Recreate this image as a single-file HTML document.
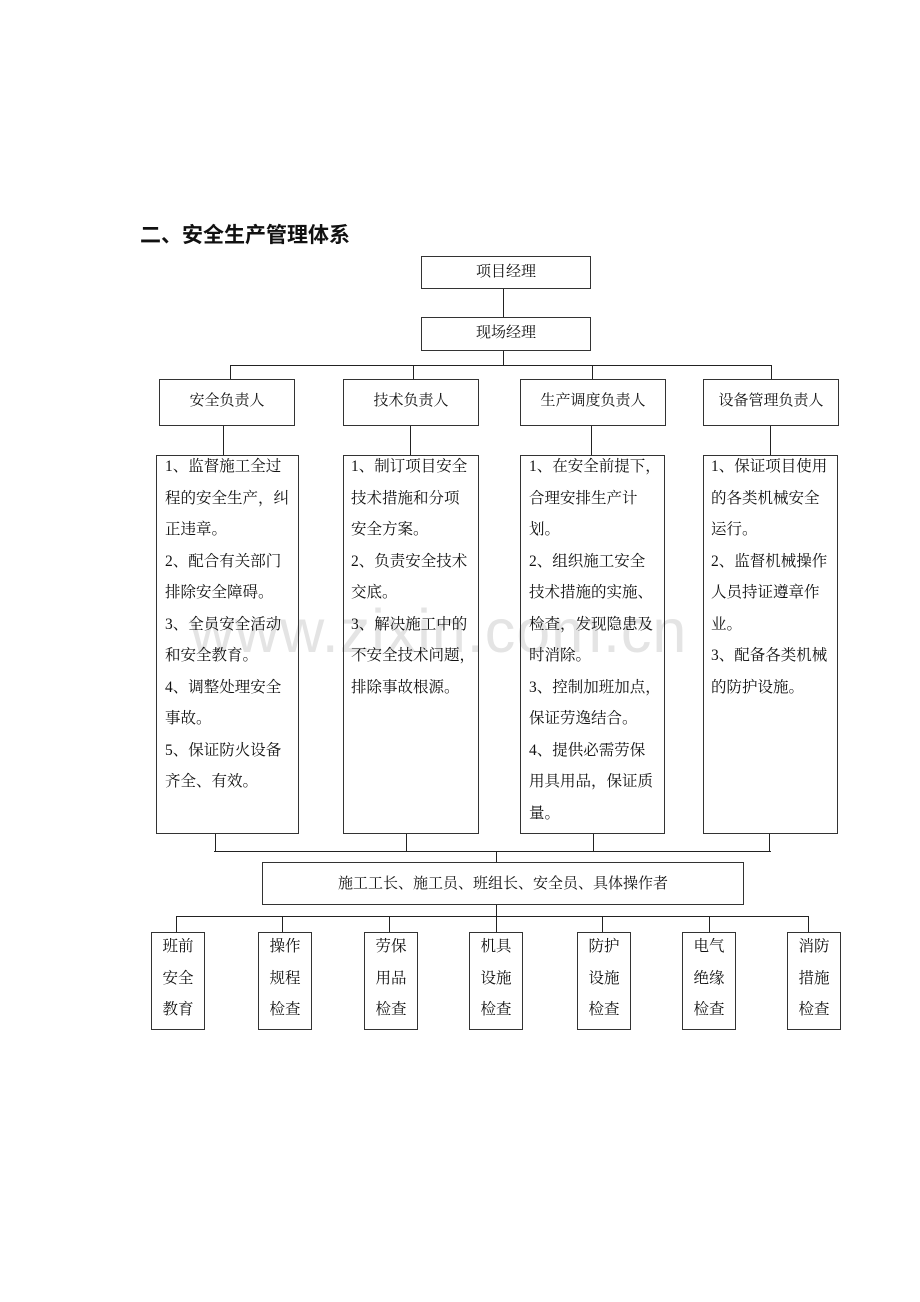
<!DOCTYPE html>
<html><head><meta charset="utf-8"><style>
body{margin:0;width:920px;height:1302px;background:#fff;position:relative;overflow:hidden;font-family:"Liberation Serif","Noto Serif CJK SC",serif;color:#111}
.b{position:absolute;border:1px solid #333;box-sizing:border-box}
.l{position:absolute;background:#222}
.t{position:absolute;font-size:15px;text-align:center;white-space:nowrap}
.d{position:absolute;font-size:15.5px;line-height:31.5px;white-space:nowrap}
.v{position:absolute;font-size:15.5px;line-height:31.5px;text-align:center;width:54px}
.wm{position:absolute;left:190px;top:596px;font-family:"Liberation Sans",sans-serif;font-size:61px;color:#e4e4e4;letter-spacing:1px}
</style></head><body>
<div class="wm">www.zixin.com.cn</div>
<div style="position:absolute;left:140px;top:219px;font-size:21px;font-weight:bold;font-family:'Liberation Sans','Noto Sans CJK SC',sans-serif">二、安全生产管理体系</div>

<div class="b" style="left:421px;top:256px;width:170px;height:33px"></div>
<div class="t" style="left:421px;top:260px;width:170px">项目经理</div>
<div class="l" style="left:503px;top:289px;width:1px;height:28px"></div>
<div class="b" style="left:421px;top:317px;width:170px;height:34px"></div>
<div class="t" style="left:421px;top:321px;width:170px">现场经理</div>
<div class="l" style="left:503px;top:351px;width:1px;height:14px"></div>
<div class="l" style="left:230px;top:365px;width:542px;height:1px"></div>
<div class="l" style="left:230px;top:365px;width:1px;height:14px"></div>
<div class="l" style="left:413px;top:365px;width:1px;height:14px"></div>
<div class="l" style="left:592px;top:365px;width:1px;height:14px"></div>
<div class="l" style="left:771px;top:365px;width:1px;height:14px"></div>

<div class="b" style="left:159px;top:379px;width:136px;height:47px"></div>
<div class="t" style="left:159px;top:389px;width:136px">安全负责人</div>
<div class="b" style="left:343px;top:379px;width:136px;height:47px"></div>
<div class="t" style="left:343px;top:389px;width:136px">技术负责人</div>
<div class="b" style="left:520px;top:379px;width:146px;height:47px"></div>
<div class="t" style="left:520px;top:389px;width:146px">生产调度负责人</div>
<div class="b" style="left:703px;top:379px;width:136px;height:47px"></div>
<div class="t" style="left:703px;top:389px;width:136px">设备管理负责人</div>

<div class="l" style="left:223px;top:426px;width:1px;height:29px"></div>
<div class="l" style="left:410px;top:426px;width:1px;height:29px"></div>
<div class="l" style="left:591px;top:426px;width:1px;height:29px"></div>
<div class="l" style="left:770px;top:426px;width:1px;height:29px"></div>

<div class="b" style="left:156px;top:455px;width:143px;height:379px"></div>
<div class="d" style="left:165px;top:451px">1、监督施工全过<br>程的安全生产，纠<br>正违章。<br>2、配合有关部门<br>排除安全障碍。<br>3、全员安全活动<br>和安全教育。<br>4、调整处理安全<br>事故。<br>5、保证防火设备<br>齐全、有效。</div>
<div class="b" style="left:343px;top:455px;width:136px;height:379px"></div>
<div class="d" style="left:351px;top:451px">1、制订项目安全<br>技术措施和分项<br>安全方案。<br>2、负责安全技术<br>交底。<br>3、解决施工中的<br>不安全技术问题，<br>排除事故根源。</div>
<div class="b" style="left:520px;top:455px;width:145px;height:379px"></div>
<div class="d" style="left:529px;top:451px">1、在安全前提下，<br>合理安排生产计<br>划。<br>2、组织施工安全<br>技术措施的实施、<br>检查，发现隐患及<br>时消除。<br>3、控制加班加点，<br>保证劳逸结合。<br>4、提供必需劳保<br>用具用品，保证质<br>量。</div>
<div class="b" style="left:703px;top:455px;width:135px;height:379px"></div>
<div class="d" style="left:711px;top:451px">1、保证项目使用<br>的各类机械安全<br>运行。<br>2、监督机械操作<br>人员持证遵章作<br>业。<br>3、配备各类机械<br>的防护设施。</div>

<div class="l" style="left:215px;top:834px;width:1px;height:18px"></div>
<div class="l" style="left:406px;top:834px;width:1px;height:18px"></div>
<div class="l" style="left:593px;top:834px;width:1px;height:18px"></div>
<div class="l" style="left:769px;top:834px;width:1px;height:18px"></div>
<div class="l" style="left:214px;top:851px;width:557px;height:1px"></div>
<div class="l" style="left:496px;top:851px;width:1px;height:11px"></div>
<div class="b" style="left:262px;top:862px;width:482px;height:43px"></div>
<div class="t" style="left:262px;top:872px;width:482px">施工工长、施工员、班组长、安全员、具体操作者</div>
<div class="l" style="left:496px;top:905px;width:1px;height:11px"></div>
<div class="l" style="left:176px;top:916px;width:633px;height:1px"></div>
<div class="l" style="left:176px;top:916px;width:1px;height:16px"></div>
<div class="l" style="left:282px;top:916px;width:1px;height:16px"></div>
<div class="l" style="left:389px;top:916px;width:1px;height:16px"></div>
<div class="l" style="left:496px;top:916px;width:1px;height:16px"></div>
<div class="l" style="left:602px;top:916px;width:1px;height:16px"></div>
<div class="l" style="left:709px;top:916px;width:1px;height:16px"></div>
<div class="l" style="left:808px;top:916px;width:1px;height:16px"></div>

<div class="b" style="left:151px;top:932px;width:54px;height:98px"></div>
<div class="v" style="left:151px;top:931px">班前<br>安全<br>教育</div>
<div class="b" style="left:258px;top:932px;width:54px;height:98px"></div>
<div class="v" style="left:258px;top:931px">操作<br>规程<br>检查</div>
<div class="b" style="left:364px;top:932px;width:54px;height:98px"></div>
<div class="v" style="left:364px;top:931px">劳保<br>用品<br>检查</div>
<div class="b" style="left:469px;top:932px;width:54px;height:98px"></div>
<div class="v" style="left:469px;top:931px">机具<br>设施<br>检查</div>
<div class="b" style="left:577px;top:932px;width:54px;height:98px"></div>
<div class="v" style="left:577px;top:931px">防护<br>设施<br>检查</div>
<div class="b" style="left:682px;top:932px;width:54px;height:98px"></div>
<div class="v" style="left:682px;top:931px">电气<br>绝缘<br>检查</div>
<div class="b" style="left:787px;top:932px;width:54px;height:98px"></div>
<div class="v" style="left:787px;top:931px">消防<br>措施<br>检查</div>
</body></html>
